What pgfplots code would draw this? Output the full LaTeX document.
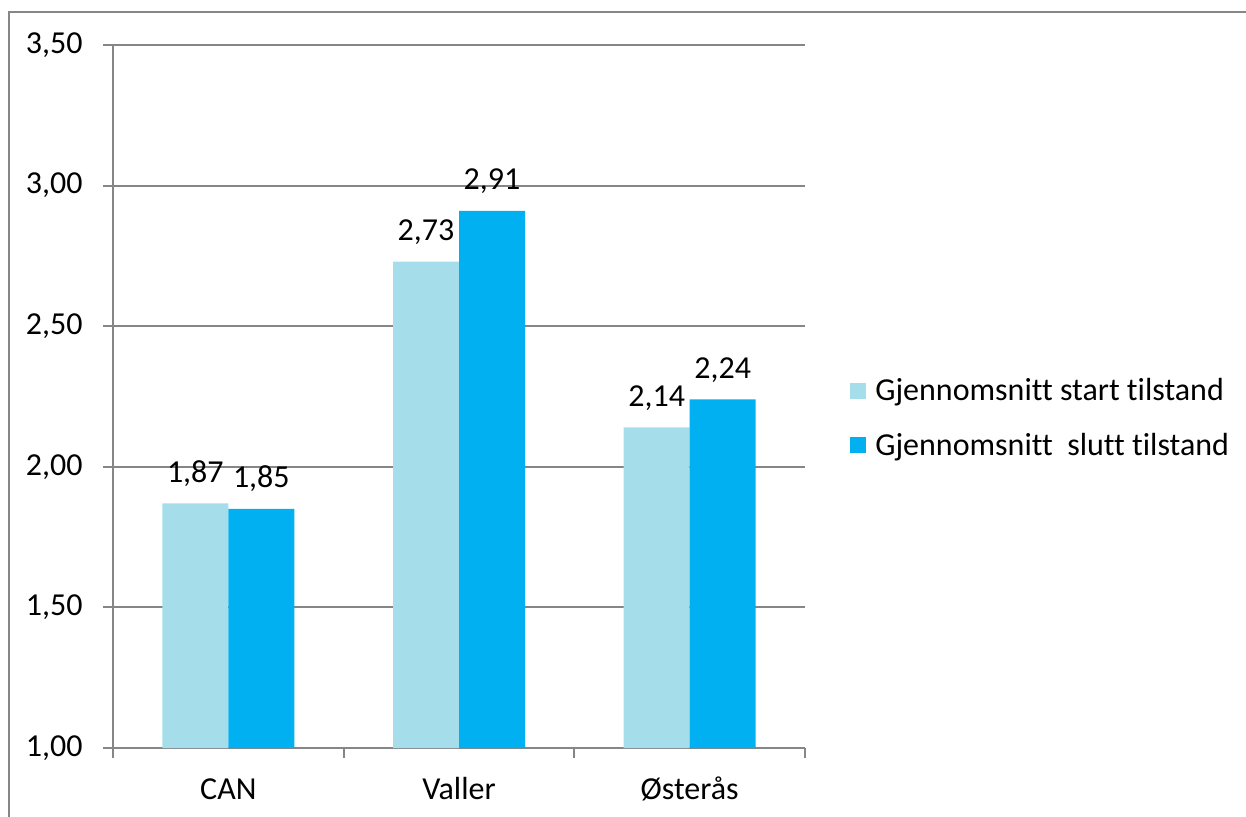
\documentclass[border=0pt]{standalone}
\usepackage{fontspec}
\setmainfont{Carlito}[Ligatures=NoCommon]
\usepackage{pgfplots}
\pgfplotsset{compat=1.18}
\definecolor{lightb}{HTML}{A5DEEA}
\definecolor{darkb}{HTML}{00B0F0}
\definecolor{axgray}{HTML}{868686}
\begin{document}
\begin{tikzpicture}[x=1pt,y=1pt,font=\fontsize{16}{19}\selectfont]
\useasboundingbox (0,0) rectangle (623,408);
\draw[axgray, line width=1pt] (4.5,-5) -- (4.5,402) -- (630,402);
\begin{axis}[
  at={(56.5pt,34pt)}, anchor=south west,
  scale only axis, width=346pt, height=351.5pt,
  ymin=1, ymax=3.5, xmin=-0.5, xmax=2.5,
  ybar=0pt, bar width=33pt,
  axis x line*=bottom, axis y line*=left,
  axis line style={-, axgray, line width=1pt},
  tick align=outside, major tick length=5pt,
  tick style={axgray, line width=1pt},
  ytick={1,1.5,2,2.5,3,3.5},
  ymajorgrids, grid style={axgray, line width=1pt},
  yticklabel style={anchor=east, inner sep=0pt, xshift=-10pt},
  xtick={-0.5,0.5,1.5,2.5}, xticklabels={},
  extra x ticks={0,1,2},
  extra x tick labels={CAN,Valler,Østerås},
  extra x tick style={major tick length=0pt, xticklabel style={anchor=base, inner sep=0pt, yshift=-25.5pt}},
  /pgf/number format/fixed, /pgf/number format/fixed zerofill,
  /pgf/number format/precision=2, /pgf/number format/use comma,
  /pgf/number format/assume math mode=true,
  nodes near coords,
  every node near coord/.append style={anchor=base, inner sep=0pt, yshift=10.5pt, black},
  legend style={draw=none, fill=none, at={(1.065,0.469)}, anchor=west, inner sep=0pt, row sep=10.5pt},
  legend cell align=left,
  legend image code/.code={\fill[#1] (0pt,-4pt) rectangle (8pt,4pt); \path (10.5pt,0pt);},
]
\addplot[fill=lightb, draw=none] coordinates {(0,1.87) (1,2.73) (2,2.14)};
\addplot[fill=darkb, draw=none] coordinates {(0,1.85) (1,2.91) (2,2.24)};
\legend{Gjennomsnitt start tilstand, Gjennomsnitt\ \ slutt tilstand}
\end{axis}
\end{tikzpicture}
\end{document}
